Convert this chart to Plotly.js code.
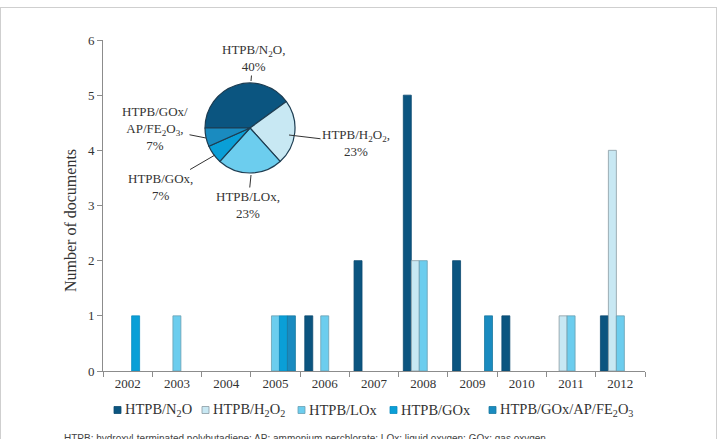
<!DOCTYPE html>
<html>
<head>
<meta charset="utf-8">
<script src="https://cdn.plot.ly/plotly-3.0.1.min.js"></script>
<style>
  html, body { margin: 0; padding: 0; background: #ffffff; }
  #wrap { position: relative; width: 719px; height: 439px; overflow: hidden; }
  #chart { position: absolute; left: 0; top: 0; width: 719px; height: 439px; }
  #frame { position: absolute; left: 0; top: 7px; width: 717px; height: 460px;
           border: 1px solid #cfcfcf; box-sizing: border-box; pointer-events: none; }
</style>
</head>
<body>
<div id="wrap">
  <div id="chart"></div>
  <div id="frame"></div>
</div>
<script>
// ---- data ----
const years = ['2002','2003','2004','2005','2006','2007','2008','2009','2010','2011','2012'];
const seriesNames = ['HTPB/N<sub>2</sub>O', 'HTPB/H<sub>2</sub>O<sub>2</sub>', 'HTPB/LOx', 'HTPB/GOx', 'HTPB/GOx/AP/FE<sub>2</sub>O<sub>3</sub>'];
const n2o   = [0, 0, 0, 0, 1, 2, 5, 2, 1, 0, 1];
const h2o2  = [0, 0, 0, 0, 0, 0, 2, 0, 0, 1, 4];
const lox   = [0, 1, 0, 1, 1, 0, 2, 0, 0, 1, 1];
const gox   = [1, 0, 0, 1, 0, 0, 0, 0, 0, 0, 0];
const goxap = [0, 0, 0, 1, 0, 0, 0, 1, 0, 0, 0];
const pieLabels = ['HTPB/N<sub>2</sub>O,', 'HTPB/H<sub>2</sub>O<sub>2</sub>,', 'HTPB/LOx,', 'HTPB/GOx,', 'HTPB/GOx/<br>AP/FE<sub>2</sub>O<sub>3</sub>,'];
const footnote = 'HTPB: hydroxyl-terminated polybutadiene; AP: ammonium perchlorate; LOx: liquid oxygen; GOx: gas oxygen';
const yTitle = 'Number of documents';

// ---- style ----
const colors = ['#0b5580', '#c8e8f3', '#6ccdee', '#0a9fd7', '#1a8bc0'];
const lineColors = ['#0b4a70', '#8a9aa2', '#6a9fb2', '#0a8cc0', '#19799f'];
const serif = 'Liberation Serif, Times New Roman, serif';
const textColor = '#333333';

const W = 719, H = 439;
const M = {l: 103, r: 74, t: 40, b: 68};
const PW = W - M.l - M.r, PH = H - M.t - M.b;
const px2x = p => (p - M.l) / PW;
const px2y = p => (H - M.b - p) / PH;

const allSeries = [n2o, h2o2, lox, gox, goxap];
const traces = allSeries.map((vals, i) => ({
  type: 'bar',
  name: seriesNames[i],
  x: years,
  y: vals.map(v => (v === 0 ? null : v)),
  marker: {color: colors[i], line: {color: lineColors[i], width: 0.8}},
  hoverinfo: 'skip',
  showlegend: false
}));

const totals = allSeries.map(s => s.reduce((a, b) => a + b, 0));
const grand = totals.reduce((a, b) => a + b, 0);

// pie geometry (layout)
const pieC = {x: 250, y: 128}, pieR = 45;
traces.push({
  type: 'pie',
  values: totals,
  labels: seriesNames,
  sort: false,
  direction: 'clockwise',
  rotation: -90,
  textinfo: 'none',
  hoverinfo: 'skip',
  showlegend: false,
  marker: {colors: colors, line: {color: '#1d3d52', width: 1.2}},
  domain: {x: [px2x(pieC.x - pieR), px2x(pieC.x + pieR)], y: [px2y(pieC.y + pieR), px2y(pieC.y - pieR)]}
});

// pie label placement (layout positions in px): tip and text offset
const labelPos = [
  {tx: 251, ty: 81,  ax: 2,   ay: -23},
  {tx: 289, ty: 135, ax: 67,  ay: 8},
  {tx: 251, ty: 175, ax: -3,  ay: 30},
  {tx: 215, ty: 155, ax: -55, ay: 32},
  {tx: 206, ty: 138, ax: -51, ay: -10}
];
const annotations = labelPos.map((p, i) => ({
  xref: 'paper', yref: 'paper',
  x: px2x(p.tx), y: px2y(p.ty),
  ax: p.ax, ay: p.ay,
  text: pieLabels[i] + '<br>' + Math.round(100 * totals[i] / grand) + '%',
  showarrow: true, arrowhead: 0, arrowwidth: 1, arrowcolor: '#333',
  standoff: 0, startstandoff: 0,
  align: 'center',
  font: {family: serif, size: 13, color: textColor}
}));
annotations.push({
  xref: 'paper', yref: 'paper', x: px2x(70), y: px2y(221),
  xanchor: 'center', yanchor: 'middle',
  text: yTitle, textangle: -90, showarrow: false,
  font: {family: serif, size: 16, color: textColor}
});
annotations.push({
  xref: 'paper', yref: 'paper', x: px2x(62), y: px2y(431),
  xanchor: 'left', yanchor: 'top',
  text: footnote, showarrow: false,
  font: {family: 'Liberation Sans, Arial, sans-serif', size: 10, color: '#444'}
});

// legend (layout positions in px)
const legendX = [114, 202, 298, 390, 489];
const legendY = 410, sq = 7;
const shapes = [];
legendX.forEach((lx, i) => {
  shapes.push({
    type: 'rect', xref: 'paper', yref: 'paper',
    x0: px2x(lx), x1: px2x(lx + sq), y0: px2y(legendY + sq / 2), y1: px2y(legendY - sq / 2),
    fillcolor: colors[i], line: {color: lineColors[i], width: 0.8}
  });
  annotations.push({
    xref: 'paper', yref: 'paper', x: px2x(lx + sq + 2), y: px2y(legendY),
    xanchor: 'left', yanchor: 'middle', showarrow: false,
    text: seriesNames[i],
    font: {family: serif, size: 14.5, color: textColor}
  });
});

const layout = {
  width: W, height: H,
  margin: M,
  paper_bgcolor: '#ffffff', plot_bgcolor: '#ffffff',
  barmode: 'group', bargap: 0.19, bargroupgap: 0,
  font: {family: serif, size: 13, color: textColor},
  showlegend: false,
  xaxis: {type: 'category', showline: true, linecolor: '#8c8c8c', linewidth: 1,
          tickmode: 'array', tickvals: years, ticktext: years,
          ticks: 'outside', tickson: 'boundaries', ticklen: 5, tickcolor: '#8c8c8c',
          showgrid: false, zeroline: false, tickangle: 0,
          tickfont: {family: serif, size: 13, color: textColor}},
  yaxis: {range: [0, 6], dtick: 1, showline: true, linecolor: '#8c8c8c', linewidth: 1,
          ticks: 'outside', ticklen: 5, tickcolor: '#8c8c8c',
          showgrid: false, zeroline: false,
          tickfont: {family: serif, size: 13, color: textColor}},
  shapes: shapes,
  annotations: annotations
};

Plotly.newPlot('chart', traces, layout, {staticPlot: true, displayModeBar: false});
</script>
</body>
</html>
